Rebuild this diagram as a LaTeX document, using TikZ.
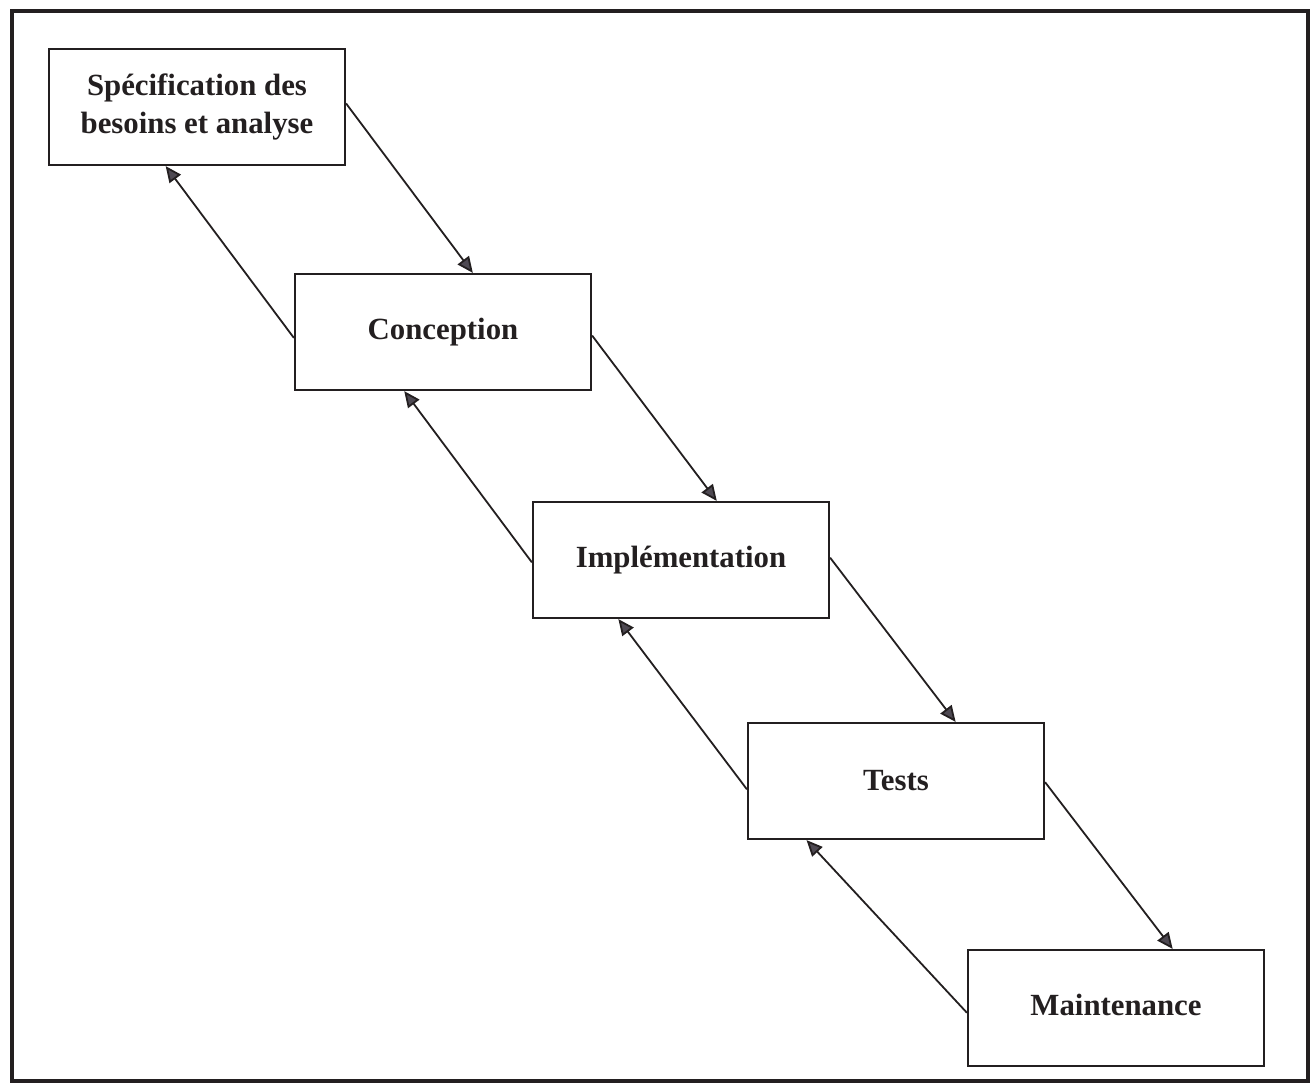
\documentclass[tikz,border=0pt]{standalone}
\usepackage{fontspec}
\setmainfont{Liberation Serif}
\usetikzlibrary{arrows.meta,calc}
\definecolor{ink}{HTML}{231F20}
\definecolor{tipfill}{HTML}{4E4952}
\begin{document}
\begin{tikzpicture}[x=0.5pt,y=-0.5pt,
  phase/.style={draw=ink,line width=1.1pt,fill=white,minimum width=148pt,
    minimum height=58pt,inner sep=0pt,align=center,
    font=\fontsize{15.4}{19}\selectfont\bfseries,text=ink},
  flow/.style={draw=ink,line width=0.9pt,
    -{Triangle[length=8pt,width=7pt,fill=tipfill]}}]
  \useasboundingbox (0,0) rectangle (1312,1084);
  \fill[white] (0,0) rectangle (1312,1084);
  % outer frame
  \draw[ink,line width=1.6pt] (12,11) rectangle (1308,1081);

  % phases
  \node[phase] (spec)  at (197,107)  {Spécification des\\besoins et analyse};
  \node[phase] (conc)  at (443,332)  {Conception};
  \node[phase] (impl)  at (681,560)  {Implémentation};
  \node[phase] (tests) at (896,781)  {Tests};
  \node[phase] (maint) at (1116,1008) {\raisebox{3pt}{Maintenance}};

  % forward flow
  \draw[flow] ($(spec.north east)!0.47!(spec.south east)$)
           -- ($(conc.north west)!0.60!(conc.north east)$);
  \draw[flow] ($(conc.north east)!0.53!(conc.south east)$)
           -- ($(impl.north west)!0.62!(impl.north east)$);
  \draw[flow] ($(impl.north east)!0.48!(impl.south east)$)
           -- ($(tests.north west)!0.70!(tests.north east)$);
  \draw[flow] ($(tests.north east)!0.51!(tests.south east)$)
           -- ($(maint.north west)!0.69!(maint.north east)$);

  % feedback flow
  \draw[flow] ($(conc.north west)!0.55!(conc.south west)$)
           -- ($(spec.south west)!0.395!(spec.south east)$);
  \draw[flow] ($(impl.north west)!0.52!(impl.south west)$)
           -- ($(conc.south west)!0.37!(conc.south east)$);
  \draw[flow] ($(tests.north west)!0.57!(tests.south west)$)
           -- ($(impl.south west)!0.29!(impl.south east)$);
  \draw[flow] ($(maint.north west)!0.54!(maint.south west)$)
           -- ($(tests.south west)!0.20!(tests.south east)$);
\end{tikzpicture}
\end{document}
